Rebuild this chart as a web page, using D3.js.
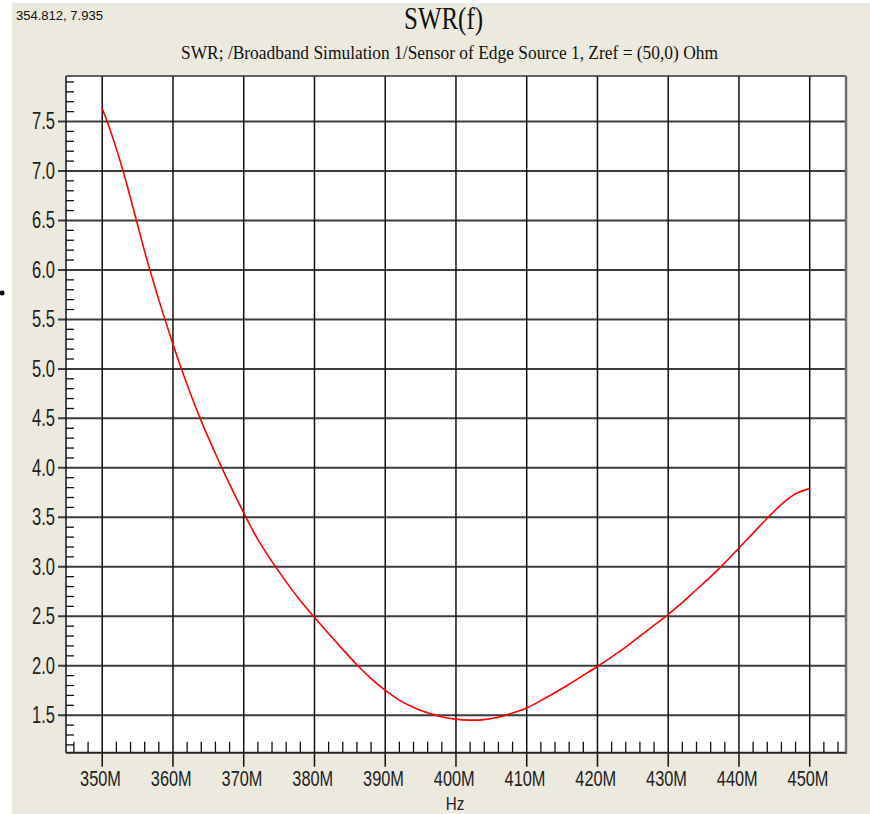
<!DOCTYPE html>
<html>
<head>
<meta charset="utf-8">
<script src="https://cdn.jsdelivr.net/npm/d3@7"></script>
<style>
  html, body { margin: 0; padding: 0; background: #fff; }
  svg { display: block; }
</style>
</head>
<body>
<svg id="chart" width="870" height="814"></svg>
<script>
// ---- data ----
const freqMHz = [350,351,352,353,354,355,356,357,358,360,362,364,366,368,370,372,374,376,378,380,
                 382,384,386,388,390,392,394,396,398,400,402,404,406,408,410,412,414,416,418,420,
                 422,424,426,428,430,432,434,436,438,440,442,444,446,448,450];
const swrValues = [7.64,7.45,7.235,7.00,6.74,6.47,6.20,5.95,5.71,5.26,4.85,4.48,4.15,3.84,3.55,3.28,3.055,2.85,2.66,2.49,
                   2.325,2.165,2.01,1.87,1.75,1.65,1.575,1.52,1.48,1.455,1.445,1.45,1.475,1.515,1.565,1.64,1.72,1.805,1.895,1.985,
                   2.08,2.18,2.29,2.40,2.51,2.63,2.76,2.89,3.03,3.18,3.33,3.48,3.62,3.73,3.785];
const xMajorTicks = [350,360,370,380,390,400,410,420,430,440,450];
const xTickLabels = ["350M","360M","370M","380M","390M","400M","410M","420M","430M","440M","450M"];
const yMajorTicks = [1.5,2.0,2.5,3.0,3.5,4.0,4.5,5.0,5.5,6.0,6.5,7.0,7.5];
const yTickLabels = ["1.5","2.0","2.5","3.0","3.5","4.0","4.5","5.0","5.5","6.0","6.5","7.0","7.5"];
const titleText = "SWR(f)";
const subtitleText = "SWR; /Broadband Simulation 1/Sensor of Edge Source 1, Zref = (50,0) Ohm";
const cursorText = "354.812, 7.935";
const xAxisLabel = "Hz";

// ---- layout ----
const svg = d3.select("#chart");
const W = 870, H = 814;
const L = 66, T = 76, R = 846, B = 752.7;

const x = d3.scaleLinear().domain([344.95, 455.2]).range([L, R]);
const y = d3.scaleLinear().domain([1.116, 7.955]).range([B, T]);

// background
svg.append("rect").attr("width", W).attr("height", H).attr("fill", "#ffffff");
svg.append("rect").attr("x", 12).attr("y", 3).attr("width", W - 12).attr("height", H - 3).attr("fill", "#ECE9DE");
svg.append("circle").attr("cx", 2).attr("cy", 293).attr("r", 2.5).attr("fill", "#000");

// cursor readout
svg.append("text").attr("x", 16).attr("y", 20)
  .attr("font-family", "Liberation Sans, Arial, sans-serif").attr("font-size", 12.5)
  .attr("fill", "#111").attr("textLength", 87).attr("lengthAdjust", "spacingAndGlyphs")
  .text(cursorText);

// titles
svg.append("text").attr("x", 443.5).attr("y", 29).attr("text-anchor", "middle")
  .attr("font-family", "Liberation Serif, Times New Roman, serif").attr("font-size", 31)
  .attr("fill", "#111").attr("textLength", 79).attr("lengthAdjust", "spacingAndGlyphs")
  .text(titleText);
svg.append("text").attr("x", 449.5).attr("y", 59).attr("text-anchor", "middle")
  .attr("font-family", "Liberation Serif, Times New Roman, serif").attr("font-size", 18)
  .attr("fill", "#111").attr("textLength", 537).attr("lengthAdjust", "spacingAndGlyphs")
  .text(subtitleText);

// plot area
svg.append("rect").attr("x", L).attr("y", T).attr("width", R - L).attr("height", B - T).attr("fill", "#fff");

// minor ticks via axes
const xMinor = d3.range(346, 455, 2).filter(v => v % 10 !== 0);
svg.append("g").attr("transform", `translate(0,${B})`)
  .call(d3.axisBottom(x).tickValues(xMinor).tickSize(-11).tickFormat(""))
  .call(g => g.select(".domain").remove())
  .call(g => g.selectAll("line").attr("stroke", "#111").attr("stroke-width", 1.3));

const yMinor = d3.range(12, 80, 1).map(v => v / 10).filter(v => Math.round(v * 10) % 5 !== 0);
svg.append("g").attr("transform", `translate(${L},0)`)
  .call(d3.axisRight(y).tickValues(yMinor).tickSize(8).tickFormat(""))
  .call(g => g.select(".domain").remove())
  .call(g => g.selectAll("line").attr("stroke", "#111").attr("stroke-width", 1.3));

// horizontal gridlines + major y ticks
svg.append("g").attr("transform", `translate(${R},0)`)
  .call(d3.axisLeft(y).tickValues(yMajorTicks).tickSize(R - L + 8).tickFormat(""))
  .call(g => g.select(".domain").remove())
  .call(g => g.selectAll("line").attr("stroke", "#3c3c3c").attr("stroke-width", 2));

// vertical gridlines + major x ticks
svg.append("g").attr("transform", `translate(0,${T})`)
  .call(d3.axisBottom(x).tickValues(xMajorTicks).tickSize(B - T + 14).tickFormat(""))
  .call(g => g.select(".domain").remove())
  .call(g => g.selectAll("line").attr("stroke", "#111").attr("stroke-width", 1.5));

// border
svg.append("line").attr("x1", L).attr("x2", L).attr("y1", T).attr("y2", B).attr("stroke", "#111").attr("stroke-width", 1.5);
svg.append("line").attr("x1", L).attr("x2", R).attr("y1", T).attr("y2", T).attr("stroke", "#333").attr("stroke-width", 1.5);
svg.append("line").attr("x1", L).attr("x2", R + 1).attr("y1", B).attr("y2", B).attr("stroke", "#222").attr("stroke-width", 2);
svg.append("line").attr("x1", R).attr("x2", R).attr("y1", T).attr("y2", B).attr("stroke", "#6e6e6e").attr("stroke-width", 2.5);

// tick labels (condensed sans)
const labFont = "Liberation Sans, Arial, sans-serif";
const sx = 0.72;
svg.append("g").selectAll("text").data(yMajorTicks).join("text")
  .attr("transform", d => `translate(55,${y(d) + 8.3}) scale(${sx},1)`)
  .attr("text-anchor", "end").attr("font-family", labFont).attr("font-size", 23)
  .attr("fill", "#222")
  .text((d, i) => yTickLabels[i]);
svg.append("g").selectAll("text").data(xMajorTicks).join("text")
  .attr("transform", d => `translate(${x(d) - 1.2},${786}) scale(0.76,1)`)
  .attr("text-anchor", "middle").attr("font-family", labFont).attr("font-size", 21.5)
  .attr("fill", "#222")
  .text((d, i) => xTickLabels[i]);
svg.append("text").attr("transform", `translate(455,809.5) scale(0.8,1)`)
  .attr("text-anchor", "middle").attr("font-family", labFont).attr("font-size", 19)
  .attr("fill", "#222").text(xAxisLabel);

// curve
svg.append("clipPath").attr("id", "clip").append("rect")
  .attr("x", L).attr("y", T).attr("width", R - L).attr("height", B - T);
const line = d3.line().x((d, i) => x(freqMHz[i])).y(d => y(d)).curve(d3.curveCatmullRom.alpha(0.5));
svg.append("path").datum(swrValues).attr("clip-path", "url(#clip)")
  .attr("d", line).attr("fill", "none").attr("stroke", "#ff0000").attr("stroke-width", 1.6);
</script>
</body>
</html>
